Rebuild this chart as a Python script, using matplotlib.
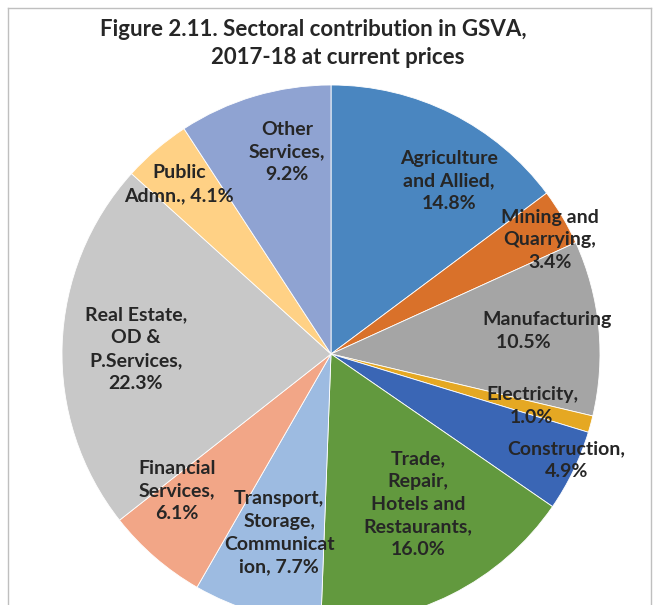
import matplotlib.pyplot as plt
from matplotlib.lines import Line2D

# data
sectors = ["Agriculture\nand Allied,", "Mining and\nQuarrying,", "Manufacturing", "Electricity,",
           "Construction,", "Trade,\nRepair,\nHotels and\nRestaurants,", "Transport,\nStorage,\nCommunicat\nion,",
           "Financial\nServices,", "Real Estate,\nOD &\nP.Services,", "Public\nAdmn.,", "Other\nServices,"]
shares = [14.8, 3.4, 10.5, 1.0, 4.9, 16.0, 7.7, 6.1, 22.3, 4.1, 9.2]
colors = ["#4A86C0", "#D9712A", "#A5A5A5", "#E5A823", "#3A66B5", "#62993E",
          "#9DBBE1", "#F2A687", "#C8C8C8", "#FFD185", "#8FA3D2"]

# label centres in unit-circle coordinates (layout only)
label_pos = [(0.439, 0.643), (0.814, 0.424), (0.803, 0.086), (0.747, -0.193),
             (0.874, -0.394), (0.323, -0.558), (-0.193, -0.665), (-0.572, -0.509),
             (-0.725, 0.019), (-0.565, 0.632), (-0.164, 0.751)]

W, H = 656, 605
fig = plt.figure(figsize=(W / 100, H / 100), dpi=100)
plt.rcParams['font.family'] = ['Lato', 'DejaVu Sans']

cx, cy, r = 331, 354, 269
ax = fig.add_axes([(cx - r) / W, (H - cy - r) / H, 2 * r / W, 2 * r / H])
wedges, _ = ax.pie(shares, colors=colors, startangle=90, counterclock=False,
                   radius=1, wedgeprops=dict(edgecolor='white', linewidth=0.6))
for w in wedges:
    w.set_clip_on(False)
ax.set_xlim(-1, 1)
ax.set_ylim(-1, 1)
ax.set_aspect('equal')
ax.axis('off')

for i, (name, val, (x, y)) in enumerate(zip(sectors, shares, label_pos)):
    if name == "Manufacturing":
        txt = name + "\n" + f"{val:.1f}%" + " " * 10
    elif i in (6, 9):
        txt = name + f" {val:.1f}%"
    else:
        txt = name + "\n" + f"{val:.1f}%"
    ax.text(x, y, txt, ha='center', va='center', multialignment='center',
            fontsize=14, fontweight='bold', color='#262626', linespacing=1.42)

fig.text(313 / W, 1 - 30 / H, "Figure 2.11. Sectoral contribution in GSVA,",
         ha='center', va='center', fontsize=16, fontweight='bold', color='#262626')
fig.text(338 / W, 1 - 58 / H, "2017-18 at current prices",
         ha='center', va='center', fontsize=16, fontweight='bold', color='#262626')

# chart frame
bc = '#BFBFBF'
fig.add_artist(Line2D([8 / W, 8 / W], [0, 1 - 8 / H], transform=fig.transFigure, color=bc, lw=1))
fig.add_artist(Line2D([8 / W, 651 / W], [1 - 8 / H, 1 - 8 / H], transform=fig.transFigure, color=bc, lw=1))
fig.add_artist(Line2D([651 / W, 651 / W], [0, 1 - 8 / H], transform=fig.transFigure, color=bc, lw=1))

fig.savefig("out.png", dpi=100)
